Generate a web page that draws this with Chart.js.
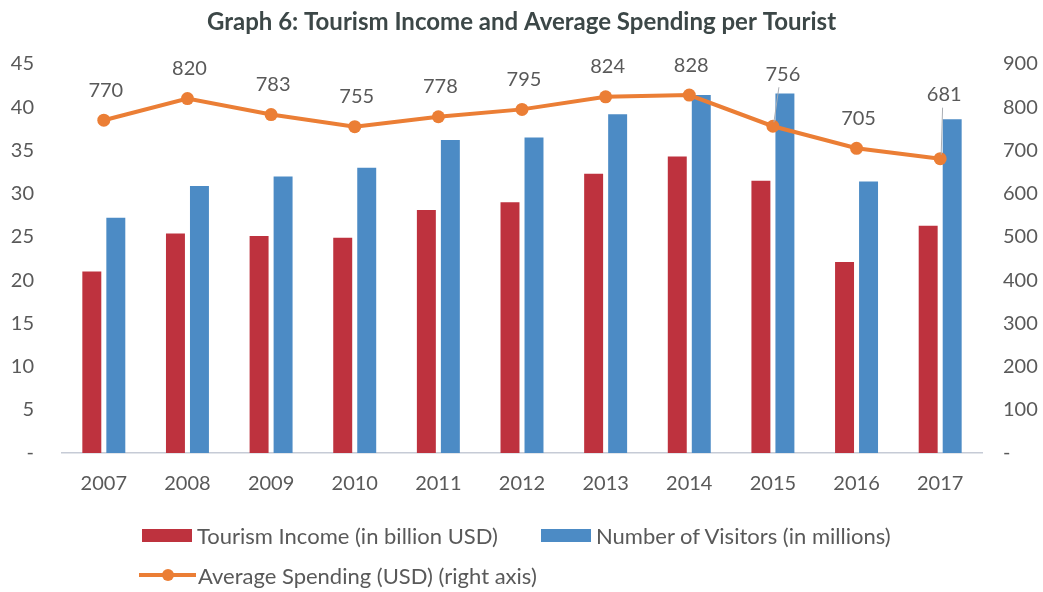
<!DOCTYPE html>
<html>
<head>
<meta charset="utf-8">
<title>Tourism Income and Average Spending per Tourist</title>
<script src="https://cdn.jsdelivr.net/npm/chart.js@4.4.0/dist/chart.umd.min.js"></script>
<style>
  html, body { margin: 0; padding: 0; background: #ffffff; }
  #wrap { position: relative; width: 1043px; height: 592px; overflow: hidden; }
  #chart { display: block; }
  #legend {
    position: absolute; left: 142px; top: 520px;
    font-family: Lato, "Open Sans", sans-serif; font-size: 22px; color: #595959;
  }
  #legend .row { display: flex; align-items: center; height: 30px; margin-bottom: 10px; white-space: nowrap; }
  #legend .item { display: flex; align-items: center; margin-right: 43px; }
  #legend .box { width: 50px; height: 13px; margin-right: 5px; }
  #legend .linemark { position: relative; width: 57px; height: 4px; margin-left: -3px; margin-right: 2px; }
  #legend .linemark span { position: absolute; left: 23px; top: -4px; width: 12px; height: 12px; border-radius: 50%; }
</style>
</head>
<body>
<div id="wrap">
  <canvas id="chart" width="1043" height="592"></canvas>
  <div id="legend"></div>
</div>
<script>
// Years on the category axis
const years = ['2007', '2008', '2009', '2010', '2011', '2012', '2013', '2014', '2015', '2016', '2017'];

// Tourism income, billion USD (left axis)
const tourismIncome = [21.0, 25.4, 25.1, 24.9, 28.1, 29.0, 32.3, 34.3, 31.5, 22.1, 26.3];

// Number of visitors, millions (left axis)
const visitors = [27.2, 30.9, 32.0, 33.0, 36.2, 36.5, 39.2, 41.4, 41.6, 31.4, 38.6];

// Average spending per tourist, USD (right axis)
const avgSpending = [770, 820, 783, 755, 778, 795, 824, 828, 756, 705, 681];

// Axis tick values
const leftTicks = [0, 5, 10, 15, 20, 25, 30, 35, 40, 45];
const rightTicks = [0, 100, 200, 300, 400, 500, 600, 700, 800, 900];

const seriesNames = [
  'Tourism Income (in billion USD)',
  'Number of Visitors (in millions)',
  'Average Spending (USD) (right axis)'
];

const COLORS = { income: '#BE323E', visitors: '#4C8BC5', spending: '#EB7E35', text: '#595959' };
const FONT = 'Lato, "Open Sans", sans-serif';

Chart.defaults.font.family = FONT;
Chart.defaults.color = COLORS.text;

// Value labels above the line points, with leader lines for lifted labels
const pointLabels = {
  id: 'pointLabels',
  afterDatasetsDraw(chart, args, opts) {
    const ctx = chart.ctx;
    chart.data.datasets.forEach((ds, di) => {
      if (ds.type !== 'line') return;
      const meta = chart.getDatasetMeta(di);
      meta.data.forEach((pt, i) => {
        const cat = chart.data.labels[i];
        const lift = opts.lift[cat] ?? opts.defaultLift;
        const dx = opts.shift[cat] ?? opts.defaultShift;
        const tx = pt.x + dx, ty = pt.y - lift;
        ctx.save();
        if (lift > opts.defaultLift) {
          ctx.strokeStyle = '#a9adb3';
          ctx.lineWidth = 1;
          ctx.beginPath();
          ctx.moveTo(tx - dx * 0.4, ty + 13);
          ctx.lineTo(pt.x + 1, pt.y - 4);
          ctx.stroke();
        }
        ctx.font = `20px ${FONT}`;
        ctx.fillStyle = COLORS.text;
        ctx.textAlign = 'center';
        ctx.textBaseline = 'middle';
        ctx.fillText(String(ds.data[i]), tx, ty);
        ctx.restore();
      });
    });
  }
};

const chart = new Chart(document.getElementById('chart'), {
  data: {
    labels: years,
    datasets: [
      {
        type: 'bar', label: seriesNames[0], data: tourismIncome, yAxisID: 'y',
        backgroundColor: COLORS.income, order: 1,
        categoryPercentage: 0.574, barPercentage: 0.79
      },
      {
        type: 'bar', label: seriesNames[1], data: visitors, yAxisID: 'y',
        backgroundColor: COLORS.visitors, order: 1,
        categoryPercentage: 0.574, barPercentage: 0.79
      },
      {
        type: 'line', label: seriesNames[2], data: avgSpending, yAxisID: 'y1',
        borderColor: COLORS.spending, backgroundColor: COLORS.spending,
        borderWidth: 4, pointRadius: 6.5, pointBorderWidth: 0,
        pointBackgroundColor: COLORS.spending, tension: 0, order: 0
      }
    ]
  },
  options: {
    responsive: false,
    animation: false,
    layout: { padding: { left: 0, right: 0, top: 0, bottom: 77 } },
    plugins: {
      legend: { display: false },
      tooltip: { enabled: false },
      title: {
        display: true,
        text: 'Graph 6: Tourism Income and Average Spending per Tourist',
        color: '#3c4747',
        font: { size: 24, weight: 'bold', family: FONT },
        padding: { top: 8, bottom: 27.2 }
      },
      pointLabels: {
        defaultLift: 30, defaultShift: 2,
        lift: { '2015': 52, '2017': 64 },
        shift: { '2015': 10, '2017': 4 }
      }
    },
    scales: {
      x: {
        grid: { display: true, drawOnChartArea: false, drawTicks: false },
        border: { display: true, color: '#c6cbd6', width: 1.5, dash: [2, 2] },
        ticks: { font: { size: 20 }, color: COLORS.text, padding: 19 }
      },
      y: {
        position: 'left', min: 0, max: 45,
        afterBuildTicks: (s) => { s.ticks = leftTicks.map(v => ({ value: v })); },
        afterFit: (s) => { s.width = 62; },
        grid: { display: false, drawTicks: false },
        border: { display: false },
        ticks: {
          font: { size: 20 }, color: COLORS.text, padding: 28,
          callback: (v) => (v === 0 ? '-' : v)
        }
      },
      y1: {
        position: 'right', min: 0, max: 900,
        afterBuildTicks: (s) => { s.ticks = rightTicks.map(v => ({ value: v })); },
        afterFit: (s) => { s.width = 61; },
        grid: { display: false, drawTicks: false },
        border: { display: false },
        ticks: {
          font: { size: 20 }, color: COLORS.text, padding: 21,
          callback: (v) => (v === 0 ? '-' : v)
        }
      }
    }
  },
  plugins: [pointLabels]
});

// HTML legend built from the chart's datasets
(function buildLegend() {
  const el = document.getElementById('legend');
  const rows = [[0, 1], [2]];
  rows.forEach(idxs => {
    const row = document.createElement('div');
    row.className = 'row';
    idxs.forEach(i => {
      const ds = chart.data.datasets[i];
      const item = document.createElement('div');
      item.className = 'item';
      const mark = document.createElement('div');
      if (ds.type === 'line') {
        mark.className = 'linemark';
        mark.style.background = ds.borderColor;
        const dot = document.createElement('span');
        dot.style.background = ds.borderColor;
        mark.appendChild(dot);
      } else {
        mark.className = 'box';
        mark.style.background = ds.backgroundColor;
      }
      const txt = document.createElement('span');
      txt.textContent = ds.label;
      item.appendChild(mark);
      item.appendChild(txt);
      row.appendChild(item);
    });
    el.appendChild(row);
  });
})();
</script>
</body>
</html>
